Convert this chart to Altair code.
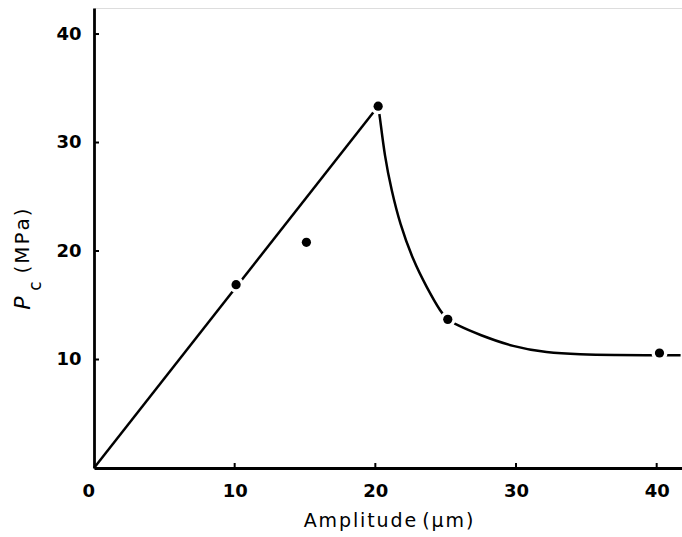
import altair as alt
import pandas as pd

# measured points
pt_x = [10.1, 15.1, 20.2, 25.15, 40.2]
pt_y = [16.9, 20.8, 33.35, 13.7, 10.6]

# straight rising line
rise_x = [0.0, 20.2]
rise_y = [0.0, 33.35]

# steep falling branch (peak -> 25 um)
fall1_x = [20.2, 20.31, 20.67, 21.15, 21.74, 22.68, 23.63, 24.70, 25.15]
fall1_y = [33.35, 32.5, 28.66, 25.6, 22.53, 19.15, 16.7, 14.25, 13.7]

# flat tail (25 um -> right edge)
fall2_x = [25.15, 25.65, 27.43, 29.79, 32.17, 34.54, 37.0, 39.52, 40.2, 41.7]
fall2_y = [13.7, 13.26, 12.25, 11.17, 10.62, 10.47, 10.42, 10.4, 10.4, 10.4]

x_ticks = [0, 10, 20, 30, 40]
y_ticks = [10, 20, 30, 40]

XMAX, YMAX = 41.8, 42.4
W, H = 588, 460

pts = pd.DataFrame({"x": pt_x, "y": pt_y})
rise = pd.DataFrame({"x": rise_x, "y": rise_y})
fall1 = pd.DataFrame({"x": fall1_x, "y": fall1_y, "o": list(range(len(fall1_x)))})
fall2 = pd.DataFrame({"x": fall2_x, "y": fall2_y, "o": list(range(len(fall2_x)))})

xs = alt.Scale(domain=[0, XMAX], nice=False, zero=False)
ys = alt.Scale(domain=[0, YMAX], nice=False, zero=False)

lab_font = "DejaVu Sans"
hs = "\u200a"
x_title = hs.join(list("Amplitude")) + " " + hs.join(list("(μm)"))

x_axis = alt.Axis(
    values=x_ticks, title=x_title, grid=False, ticks=False,
    domainColor="black", domainWidth=2.8,
    labelFont=lab_font, labelFontWeight="bold", labelFontSize=18, labelColor="black",
    labelPadding=14,
    labelOffset={"condition": {"test": "datum.value == 0", "value": -12}, "value": 0},
    titleFont=lab_font, titleFontWeight="normal", titleFontSize=19, titleColor="black",
    titlePadding=11,
)
y_axis = alt.Axis(
    values=y_ticks, title=None, grid=False, ticks=False,
    domainColor="black", domainWidth=2.8,
    labelFont=lab_font, labelFontWeight="bold", labelFontSize=18, labelColor="black",
    labelPadding=13,
)

base_axes = alt.Chart(pts).mark_point(opacity=0).encode(
    x=alt.X("x:Q", scale=xs, axis=x_axis),
    y=alt.Y("y:Q", scale=ys, axis=y_axis),
)

rise_line = alt.Chart(rise).mark_line(color="black", strokeWidth=2.5).encode(
    x=alt.X("x:Q", scale=xs), y=alt.Y("y:Q", scale=ys)
)
fall_line1 = alt.Chart(fall1).mark_line(color="black", strokeWidth=2.5, interpolate="basis").encode(
    x=alt.X("x:Q", scale=xs), y=alt.Y("y:Q", scale=ys), order="o:Q"
)
fall_line2 = alt.Chart(fall2).mark_line(color="black", strokeWidth=2.5, interpolate="basis").encode(
    x=alt.X("x:Q", scale=xs), y=alt.Y("y:Q", scale=ys), order="o:Q"
)

halo = alt.Chart(pts).mark_circle(color="white", opacity=1, size=260).encode(
    x=alt.X("x:Q", scale=xs), y=alt.Y("y:Q", scale=ys)
)
dots = alt.Chart(pts).mark_circle(color="black", opacity=1, size=85).encode(
    x=alt.X("x:Q", scale=xs), y=alt.Y("y:Q", scale=ys)
)

xt = pd.DataFrame({"v": [t for t in x_ticks if t > 0]})
yt = pd.DataFrame({"v": y_ticks})
x_tick_marks = alt.Chart(xt).mark_rule(color="black", strokeWidth=2).encode(
    x=alt.X("v:Q", scale=xs), y=alt.value(H), y2=alt.value(H - 5)
)
y_tick_marks = alt.Chart(yt).mark_rule(color="black", strokeWidth=2).encode(
    y=alt.Y("v:Q", scale=ys), x=alt.value(0), x2=alt.value(5)
)

y_P = alt.Chart(pd.DataFrame({"t": ["P"]})).mark_text(
    angle=270, font=lab_font, fontStyle="italic", fontSize=22, color="black",
    align="center", baseline="middle"
).encode(text="t:N", x=alt.value(-71), y=alt.value(295))
y_c = alt.Chart(pd.DataFrame({"t": ["c"]})).mark_text(
    angle=270, font=lab_font, fontSize=17, color="black",
    align="center", baseline="middle"
).encode(text="t:N", x=alt.value(-58), y=alt.value(278))
y_mpa = alt.Chart(pd.DataFrame({"t": ["(" + hs + "M" + hs + "P" + hs + "a" + hs + ")"]})).mark_text(
    angle=270, font=lab_font, fontSize=20, color="black",
    align="center", baseline="middle"
).encode(text="t:N", x=alt.value(-71), y=alt.value(233))

chart = alt.layer(
    base_axes, rise_line, fall_line1, fall_line2, halo, dots,
    x_tick_marks, y_tick_marks, y_P, y_c, y_mpa
).properties(
    width=W, height=H,
    autosize=alt.AutoSizeParams(type="none"),
    padding={"left": 94, "top": 8, "right": 0, "bottom": 69},
).configure_view(stroke=None).configure(background="white")

chart.save("out.html", embed_options={"renderer": "svg", "actions": False})
